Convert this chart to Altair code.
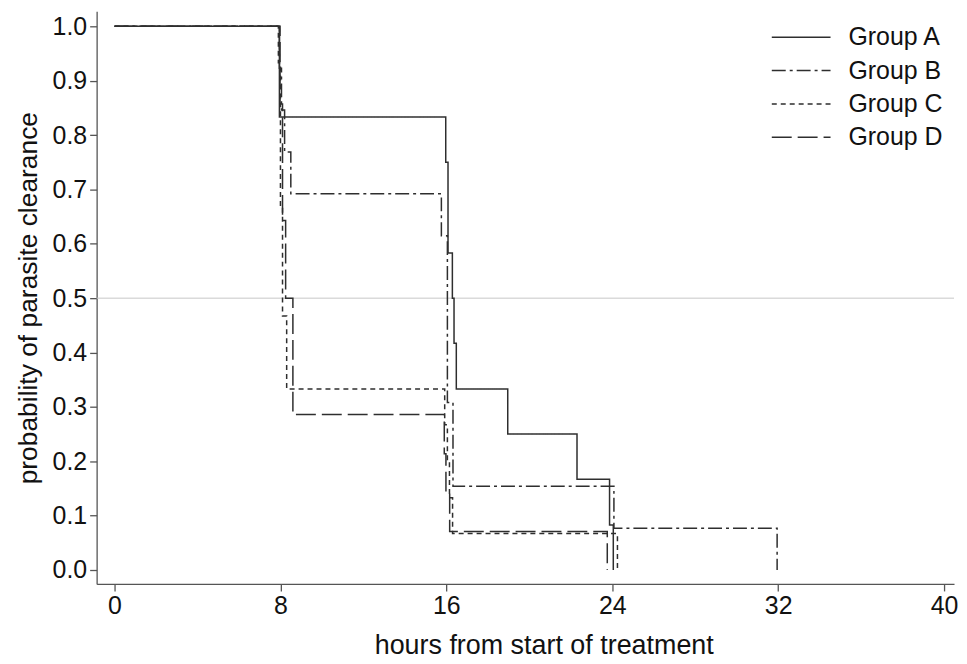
import altair as alt
import pandas as pd

groups = ["Group A", "Group B", "Group C", "Group D"]

a_hours = [0, 7.95, 15.97, 16.08, 16.29, 16.37, 16.48, 18.96, 22.3, 23.87, 24.05]
a_prob = [1.0, 0.833, 0.75, 0.583, 0.5, 0.417, 0.333, 0.25, 0.167, 0.083, 0.0]

b_hours = [0, 7.95, 8.05, 8.2, 8.5, 15.76, 16.05, 16.32, 24.08, 31.95]
b_prob = [1.0, 0.923, 0.846, 0.769, 0.692, 0.615, 0.308, 0.154, 0.077, 0.0]

c_hours = [0, 7.9, 8.0, 8.1, 8.3, 15.92, 16.05, 16.15, 16.3, 24.25]
c_prob = [1.0, 0.933, 0.667, 0.467, 0.333, 0.267, 0.2, 0.133, 0.067, 0.0]

d_hours = [0, 7.98, 8.1, 8.25, 8.6, 15.9, 15.98, 16.16, 23.76]
d_prob = [1.0, 0.857, 0.643, 0.5, 0.286, 0.214, 0.143, 0.071, 0.0]

x_ticks = [0, 8, 16, 24, 32, 40]
y_ticks = [0.0, 0.1, 0.2, 0.3, 0.4, 0.5, 0.6, 0.7, 0.8, 0.9, 1.0]
ref_level = [0.5]

series = {
    "Group A": (a_hours, a_prob),
    "Group B": (b_hours, b_prob),
    "Group C": (c_hours, c_prob),
    "Group D": (d_hours, d_prob),
}
rows = []
for g in groups:
    hs, ps = series[g]
    for i, (h, p) in enumerate(zip(hs, ps)):
        rows.append({"group": g, "hours": h, "prob": p, "idx": i})
df = pd.DataFrame(rows)

dash_range = [[1, 0], [14, 4, 3, 4], [5, 4], [20, 6]]
FONT = "Liberation Sans"
LINE = "#2e2e2e"

x_scale = alt.Scale(domain=[-0.864, 40.48], nice=False, zero=False)
y_scale = alt.Scale(domain=[-0.0256, 1.0275], nice=False, zero=False)

ref = alt.Chart(pd.DataFrame({"y": ref_level})).mark_rule(
    color="#c8c8c8", strokeWidth=1
).encode(y=alt.Y("y:Q", scale=y_scale))

lines = alt.Chart(df).mark_line(
    interpolate="step-after", strokeWidth=1.5, color=LINE
).encode(
    x=alt.X("hours:Q", scale=x_scale,
            axis=alt.Axis(values=x_ticks, title="hours from start of treatment",
                          format="d", labelPadding=3,
                          titleFontSize=27, titleX=449, titleY=70,
                          titleAlign="center", titleBaseline="alphabetic")),
    y=alt.Y("prob:Q", scale=y_scale,
            axis=alt.Axis(values=y_ticks, title="probability of parasite clearance",
                          format=".1f", labelPadding=3, titlePadding=10,
                          titleFontSize=26.5)),
    strokeDash=alt.StrokeDash(
        "group:N",
        scale=alt.Scale(domain=groups, range=dash_range),
        legend=alt.Legend(
            title=None, orient="none", legendX=677, legendY=13.5,
            symbolType="stroke", symbolSize=3481, symbolStrokeWidth=1.5,
            symbolStrokeColor=LINE, labelFontSize=25, labelFont=FONT,
            labelColor="#111111", labelOffset=17, rowPadding=7.5,
            clipHeight=25, padding=0,
        ),
    ),
    order="idx:Q",
)

chart = alt.layer(ref, lines).properties(
    width=861, height=575,
    autosize=alt.AutoSizeParams(type="none"),
    padding={"left": 89, "top": 2, "right": 5, "bottom": 77},
).configure_view(stroke=None).configure_axis(
    grid=False, domainColor="#555555", tickColor="#555555", domainWidth=1.3,
    tickWidth=1.3, tickSize=7, labelFontSize=25,
    labelFont=FONT, titleFont=FONT, labelColor="#111111", titleColor="#111111",
    titleFontWeight="normal",
)

chart.save("out.html", embed_options={"renderer": "svg", "actions": False})
